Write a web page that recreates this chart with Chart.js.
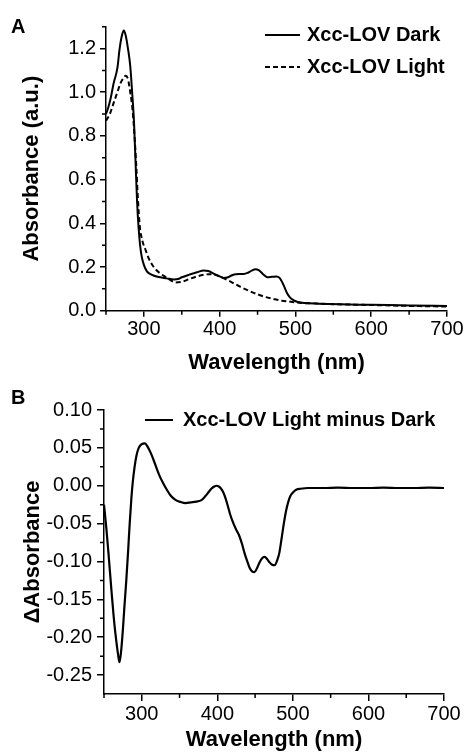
<!DOCTYPE html>
<html>
<head>
<meta charset="utf-8">
<script src="https://cdn.jsdelivr.net/npm/chart.js@4.4.0/dist/chart.umd.min.js"></script>
<style>
  html, body { margin: 0; padding: 0; background: #fff; }
  #wrap { position: relative; width: 466px; height: 753px; }
  canvas { position: absolute; left: 0; }
  #chartA { top: 0; }
  #chartB { top: 380px; }
  .panel-label { position: absolute; left: 11px; font: bold 20px Arial, "Liberation Sans", sans-serif; line-height: 20px; color: #000; }
</style>
</head>
<body>
<div id="wrap">
  <canvas id="chartA" width="466" height="380"></canvas>
  <canvas id="chartB" width="466" height="373"></canvas>
  <div class="panel-label" style="top:16px">A</div>
  <div class="panel-label" style="top:387px">B</div>
</div>
<script>
// --- data ---
const darkNm = [250, 253, 256, 260, 265, 268, 271, 273.5, 276, 279,
  282, 284.5, 287, 289, 291, 293, 295, 297, 300, 304,
  310, 318, 330, 340, 345, 350, 360, 370, 379, 385,
  392, 400, 405, 410, 415, 421, 432, 438, 447, 452,
  458, 463, 469, 475, 479, 484, 489, 493, 498, 503,
  512, 530, 560, 600, 650, 700];
const darkAbs = [0.90, 0.93, 0.97, 1.04, 1.11, 1.20, 1.26, 1.283, 1.26, 1.20,
  1.12, 1.00, 0.86, 0.68, 0.50, 0.38, 0.30, 0.25, 0.21, 0.18,
  0.165, 0.155, 0.148, 0.143, 0.145, 0.153, 0.165, 0.176, 0.184, 0.182,
  0.170, 0.157, 0.150, 0.152, 0.160, 0.167, 0.168, 0.175, 0.190, 0.185,
  0.165, 0.153, 0.155, 0.157, 0.150, 0.120, 0.080, 0.060, 0.047, 0.040,
  0.035, 0.032, 0.029, 0.027, 0.024, 0.022];

const lightNm = [250, 255, 260, 265, 269, 273, 276, 279, 282, 285,
  288, 290, 292, 294.5, 298, 302, 307, 313, 320, 331,
  336, 342, 350, 360, 370, 380, 386, 395, 405, 415,
  427, 438, 450, 460, 471, 482, 494, 505, 520, 550,
  600, 650, 700];
const lightAbs = [0.87, 0.90, 0.95, 1.00, 1.04, 1.065, 1.075, 1.06, 1.00, 0.92,
  0.78, 0.66, 0.52, 0.39, 0.32, 0.28, 0.235, 0.20, 0.175, 0.149,
  0.138, 0.129, 0.132, 0.145, 0.157, 0.165, 0.167, 0.163, 0.149, 0.132,
  0.110, 0.092, 0.075, 0.063, 0.054, 0.046, 0.041, 0.036, 0.034, 0.030,
  0.026, 0.022, 0.019];

const diffNm = [250, 253, 256, 260, 263, 266, 268.5, 270.5, 272.5, 275,
  277, 279.5, 282, 284, 286, 288, 290.5, 293, 296, 300,
  304, 308, 312, 316, 320, 324, 328, 333, 339, 345,
  350, 358, 365, 372, 379, 384, 388, 392, 396, 399,
  402, 405, 408, 411, 414, 417, 421, 425, 429, 433,
  436, 440, 443, 446, 449, 452, 456, 459, 462.5, 466,
  469, 472, 476, 479, 482, 485, 488, 491, 494, 497,
  501, 505, 510, 520, 540, 560, 580, 600, 620, 640,
  660, 680, 700];
const diffAbs = [-0.025, -0.055, -0.090, -0.140, -0.175, -0.203, -0.222, -0.233, -0.220, -0.190,
  -0.160, -0.125, -0.085, -0.050, -0.020, 0.004, 0.025, 0.040, 0.050, 0.055,
  0.056, 0.051, 0.043, 0.033, 0.022, 0.012, 0.004, -0.005, -0.014, -0.019,
  -0.021, -0.023, -0.022, -0.021, -0.019, -0.014, -0.009, -0.004, -0.001, 0.000,
  -0.001, -0.004, -0.009, -0.017, -0.027, -0.038, -0.049, -0.058, -0.066, -0.078,
  -0.089, -0.101, -0.109, -0.113, -0.114, -0.110, -0.101, -0.096, -0.094, -0.097,
  -0.101, -0.104, -0.105, -0.099, -0.089, -0.070, -0.050, -0.033, -0.021, -0.013,
  -0.008, -0.005, -0.004, -0.003, -0.003, -0.0025, -0.003, -0.003, -0.0025, -0.003,
  -0.003, -0.0025, -0.003];

// axis ticks
const xTicks = [300, 400, 500, 600, 700];
const xMinor = [250, 350, 450, 550, 650];
const yTicksA = [0, 0.2, 0.4, 0.6, 0.8, 1.0, 1.2];
const yMinorA = [0.1, 0.3, 0.5, 0.7, 0.9, 1.1, 1.3];
const yTicksB = [0.10, 0.05, 0, -0.05, -0.10, -0.15, -0.20, -0.25];
const yMinorB = [0.075, 0.025, -0.025, -0.075, -0.125, -0.175, -0.225];

const FONT = 'Arial, "Liberation Sans", sans-serif';
Chart.defaults.font.family = FONT;
Chart.defaults.color = '#000';

const toPoints = (xs, ys) => xs.map((x, i) => ({ x: x, y: ys[i] }));

// legend drawn inside the plot, styled from the datasets
const inlineLegend = {
  id: 'inlineLegend',
  afterDraw(chart, args, opts) {
    const ctx = chart.ctx;
    ctx.save();
    ctx.font = 'bold 20px ' + FONT;
    ctx.textBaseline = 'middle';
    ctx.fillStyle = '#000';
    chart.data.datasets.forEach((ds, i) => {
      const y = opts.y + i * opts.rowGap;
      ctx.beginPath();
      ctx.setLineDash(ds.borderDash || []);
      ctx.lineWidth = 2;
      ctx.strokeStyle = ds.borderColor;
      ctx.moveTo(opts.x, y);
      ctx.lineTo(opts.x + opts.lineLen, y);
      ctx.stroke();
      ctx.setLineDash([]);
      ctx.fillText(ds.label, opts.x + opts.lineLen + opts.gap, y);
    });
    ctx.restore();
  }
};

// short minor tick marks
const minorTicks = {
  id: 'minorTicks',
  afterDraw(chart, args, opts) {
    const { ctx, chartArea, scales } = chart;
    ctx.save();
    ctx.strokeStyle = '#000';
    ctx.lineWidth = 1.5;
    ctx.beginPath();
    opts.x.forEach(v => {
      const px = scales.x.getPixelForValue(v);
      ctx.moveTo(px, chartArea.bottom);
      ctx.lineTo(px, chartArea.bottom + opts.len);
    });
    opts.y.forEach(v => {
      const py = scales.y.getPixelForValue(v);
      ctx.moveTo(chartArea.left - opts.len, py);
      ctx.lineTo(chartArea.left, py);
    });
    ctx.stroke();
    ctx.restore();
  }
};

function axisX(height, titlePad, tickLen) {
  return {
    type: 'linear', min: 250, max: 700,
    afterBuildTicks: s => { s.ticks = xTicks.map(v => ({ value: v })); },
    afterFit: s => { s.height = height; },
    ticks: { font: { size: 20 }, padding: 1, color: '#000' },
    grid: { drawOnChartArea: false, drawTicks: true, tickLength: tickLen, color: '#000', lineWidth: 1.5 },
    border: { color: '#000', width: 1.5 },
    title: { display: true, text: 'Wavelength (nm)', font: { size: 22, weight: 'bold' }, color: '#000', padding: { top: 0, bottom: titlePad } }
  };
}

function renderAbsorbanceChart() {
  new Chart(document.getElementById('chartA'), {
    type: 'line',
    data: {
      datasets: [
        { label: 'Xcc-LOV Dark', data: toPoints(darkNm, darkAbs), borderColor: '#000', borderWidth: 2, pointRadius: 0, cubicInterpolationMode: 'monotone' },
        { label: 'Xcc-LOV Light', data: toPoints(lightNm, lightAbs), borderColor: '#000', borderWidth: 2, borderDash: [5, 3], pointRadius: 0, cubicInterpolationMode: 'monotone' }
      ]
    },
    options: {
      responsive: false,
      animation: false,
      layout: { padding: { top: 26.7, right: 19, left: 0, bottom: 0 } },
      scales: {
        x: axisX(69.3, 4, 6),
        y: {
          type: 'linear', min: 0, max: 1.3,
          afterBuildTicks: s => { s.ticks = yTicksA.map(v => ({ value: v })); },
          afterFit: s => { s.width = 106; },
          ticks: { font: { size: 20 }, padding: 4, color: '#000', callback: v => v.toFixed(1) },
          grid: { drawOnChartArea: false, drawTicks: true, tickLength: 6, color: '#000', lineWidth: 1.5 },
          border: { color: '#000', width: 1.5 },
          title: { display: true, text: 'Absorbance (a.u.)', font: { size: 22, weight: 'bold' }, color: '#000', padding: { top: 19, bottom: 0 } }
        }
      },
      plugins: {
        legend: { display: false },
        tooltip: { enabled: false },
        inlineLegend: { x: 265, y: 35, rowGap: 32, lineLen: 35, gap: 7 },
        minorTicks: { x: xMinor, y: yMinorA, len: 4 }
      }
    },
    plugins: [inlineLegend, minorTicks]
  });
}

function renderDifferenceChart() {
  new Chart(document.getElementById('chartB'), {
    type: 'line',
    data: {
      datasets: [
        { label: 'Xcc-LOV Light minus Dark', data: toPoints(diffNm, diffAbs), borderColor: '#000', borderWidth: 2.2, pointRadius: 0, cubicInterpolationMode: 'monotone' }
      ]
    },
    options: {
      responsive: false,
      animation: false,
      layout: { padding: { top: 30, right: 22, left: 0, bottom: 0 } },
      scales: {
        x: axisX(59, 0, 7),
        y: {
          type: 'linear', min: -0.275, max: 0.10,
          afterBuildTicks: s => { s.ticks = yTicksB.map(v => ({ value: v })); },
          afterFit: s => { s.width = 104; },
          ticks: { font: { size: 20 }, padding: 5, color: '#000', callback: v => v.toFixed(2) },
          grid: { drawOnChartArea: false, drawTicks: true, tickLength: 7, color: '#000', lineWidth: 1.5 },
          border: { color: '#000', width: 1.5 },
          title: { display: true, text: 'ΔAbsorbance', font: { size: 22, weight: 'bold' }, color: '#000', padding: { top: 20, bottom: 0 } }
        }
      },
      plugins: {
        legend: { display: false },
        tooltip: { enabled: false },
        inlineLegend: { x: 145, y: 40, rowGap: 32, lineLen: 28, gap: 10 },
        minorTicks: { x: xMinor, y: yMinorB, len: 4 }
      }
    },
    plugins: [inlineLegend, minorTicks]
  });
}

renderAbsorbanceChart();
renderDifferenceChart();
</script>
</body>
</html>
